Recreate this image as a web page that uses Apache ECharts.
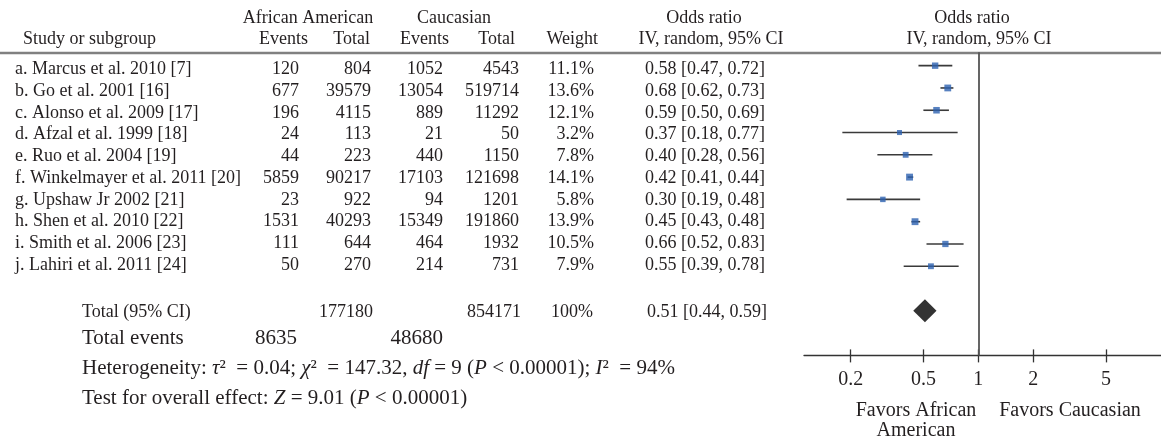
<!DOCTYPE html>
<html>
<head>
<meta charset="utf-8">
<script src="https://cdn.jsdelivr.net/npm/echarts@6/dist/echarts.min.js"></script>
<style>
html, body { margin: 0; padding: 0; background: #fff; }
#main { width: 1161px; height: 439px; }
</style>
</head>
<body>
<div id="main"></div>
<script>
var studies = ['a. Marcus et al. 2010 [7]', 'b. Go et al. 2001 [16]', 'c. Alonso et al. 2009 [17]',
    'd. Afzal et al. 1999 [18]', 'e. Ruo et al. 2004 [19]', 'f. Winkelmayer et al. 2011 [20]',
    'g. Upshaw Jr 2002 [21]', 'h. Shen et al. 2010 [22]', 'i. Smith et al. 2006 [23]', 'j. Lahiri et al. 2011 [24]'];
var aaEvents = [120, 677, 196, 24, 44, 5859, 23, 1531, 111, 50];
var aaTotal = [804, 39579, 4115, 113, 223, 90217, 922, 40293, 644, 270];
var caEvents = [1052, 13054, 889, 21, 440, 17103, 94, 15349, 464, 214];
var caTotal = [4543, 519714, 11292, 50, 1150, 121698, 1201, 191860, 1932, 731];
var weights = [11.1, 13.6, 12.1, 3.2, 7.8, 14.1, 5.8, 13.9, 10.5, 7.9];
var oddsRatio = [0.58, 0.68, 0.59, 0.37, 0.40, 0.42, 0.30, 0.45, 0.66, 0.55];
var ciLow = [0.47, 0.62, 0.50, 0.18, 0.28, 0.41, 0.19, 0.43, 0.52, 0.39];
var ciHigh = [0.72, 0.73, 0.69, 0.77, 0.56, 0.44, 0.48, 0.48, 0.83, 0.78];

// pooled estimate: OR, low, high
var pooled = [0.51, 0.44, 0.59];
var totalParticipants = [177180, 854171];
var totalEvents = [8635, 48680];
var tickValues = [0.2, 0.5, 1, 2, 5];

var FONT = '"Liberation Serif", "DejaVu Serif", serif';
var INK = '#231f20';

function ciText(or, lo, hi) {
    return or.toFixed(2) + ' [' + lo.toFixed(2) + ', ' + hi.toFixed(2) + ']';
}

// table columns (x position, alignment, cell getter)
var cols = [
    {x: 15, align: 'left', get: function (i) { return studies[i]; }},
    {x: 299, align: 'right', get: function (i) { return String(aaEvents[i]); }},
    {x: 371, align: 'right', get: function (i) { return String(aaTotal[i]); }},
    {x: 443, align: 'right', get: function (i) { return String(caEvents[i]); }},
    {x: 519, align: 'right', get: function (i) { return String(caTotal[i]); }},
    {x: 594, align: 'right', get: function (i) { return weights[i].toFixed(1) + '%'; }},
    {x: 645, align: 'left', get: function (i) { return ciText(oddsRatio[i], ciLow[i], ciHigh[i]); }}
];

function txt(x, y, text, align, size, extra) {
    var st = {text: text, x: x, y: y, align: align || 'left', verticalAlign: 'middle',
        fontSize: size || 18, fontFamily: FONT, fill: INK};
    if (extra) { for (var k in extra) st[k] = extra[k]; }
    return {type: 'text', silent: true, style: st};
}

var it = {fontSize: 21, fontFamily: FONT, fontStyle: 'italic', fill: INK};
var rm = {fontSize: 21, fontFamily: FONT, fill: INK};
var EQ = '\u2002= ';

var graphics = [
    {type: 'line', silent: true, shape: {x1: 0, y1: 53, x2: 1161, y2: 53},
        style: {stroke: '#808080', lineWidth: 2.5}},
    txt(308, 18, 'African American', 'center'),
    txt(454, 18, 'Caucasian', 'center'),
    txt(704, 18, 'Odds ratio', 'center'),
    txt(972, 18, 'Odds ratio', 'center'),
    txt(23, 39, 'Study or subgroup', 'left'),
    txt(308, 39, 'Events', 'right'),
    txt(370, 39, 'Total', 'right'),
    txt(449, 39, 'Events', 'right'),
    txt(515, 39, 'Total', 'right'),
    txt(598, 39, 'Weight', 'right'),
    txt(711, 39, 'IV, random, 95% CI', 'center'),
    txt(979, 39, 'IV, random, 95% CI', 'center'),
    // totals
    txt(82, 312, 'Total (95% CI)', 'left'),
    txt(373, 312, String(totalParticipants[0]), 'right'),
    txt(521, 312, String(totalParticipants[1]), 'right'),
    txt(593, 312, '100%', 'right'),
    txt(647, 312, ciText(pooled[0], pooled[1], pooled[2]), 'left'),
    txt(82, 338, 'Total events', 'left', 21),
    txt(297, 338, String(totalEvents[0]), 'right', 21),
    txt(443, 338, String(totalEvents[1]), 'right', 21),
    txt(82, 368, '{r|Heterogeneity: }{i|τ}{r|²' + EQ + '0.04; }{i|χ}{r|²' + EQ + '147.32, }{i|df}{r| = 9 (}{i|P}{r| < 0.00001); }{i|I}{r|²' + EQ + '94%}',
        'left', 21, {rich: {i: it, r: rm}}),
    txt(82, 398, '{r|Test for overall effect: }{i|Z}{r| = 9.01 (}{i|P}{r| < 0.00001)}',
        'left', 21, {rich: {i: it, r: rm}}),
    // axis captions
    txt(916, 411, 'Favors African', 'center', 20),
    txt(916, 431, 'American', 'center', 20),
    txt(1070, 411, 'Favors Caucasian', 'center', 20)
];

var chart = echarts.init(document.getElementById('main'));
var option = {
    animation: false,
    backgroundColor: '#fff',
    graphic: graphics,
    grid: [
        {left: 0, width: 1161, top: 56.25, height: 295.8},
        {left: 804, width: 361, top: 52.3, height: 303.1}
    ],
    xAxis: [
        {gridIndex: 0, type: 'value', min: 0, max: 1161, show: false},
        {
            gridIndex: 1, type: 'log', logBase: 10, min: 0.111, max: 10, position: 'bottom',
            axisLine: {show: true, onZero: false, lineStyle: {color: '#333', width: 1.3}},
            axisTick: {show: true, inside: false, length: 7, customValues: tickValues,
                lineStyle: {color: '#333', width: 1.3}},
            axisLabel: {show: true, margin: 14, customValues: tickValues, color: INK,
                fontFamily: FONT, fontSize: 20,
                formatter: function (v) { return String(+(+v).toPrecision(3)); }},
            splitLine: {show: false},
            minorTick: {show: false}
        },
        {
            gridIndex: 1, type: 'log', logBase: 10, min: 0.111, max: 10, position: 'bottom',
            axisLine: {show: false, onZero: false},
            axisTick: {show: true, inside: true, length: 6, customValues: tickValues,
                lineStyle: {color: '#333', width: 1.3}},
            axisLabel: {show: false},
            splitLine: {show: false}
        }
    ],
    yAxis: [
        {gridIndex: 0, type: 'value', inverse: true, min: -0.6, max: 13, show: false},
        {gridIndex: 1, type: 'value', inverse: true, min: -0.6, max: 13, show: false,
            axisLine: {onZero: false}}
    ],
    series: [
        {
            // study table
            type: 'custom',
            xAxisIndex: 0, yAxisIndex: 0,
            silent: true,
            data: studies.map(function (s, i) { return [0, i]; }),
            renderItem: function (params, api) {
                var row = api.value(1);
                var i = params.dataIndex;
                return {
                    type: 'group',
                    children: cols.map(function (c) {
                        var p = api.coord([c.x, row]);
                        return {
                            type: 'text',
                            style: {
                                text: c.get(i), x: p[0], y: p[1], align: c.align,
                                verticalAlign: 'middle', fontSize: 18, fontFamily: FONT, fill: INK
                            }
                        };
                    })
                };
            }
        },
        {
            // confidence intervals
            type: 'custom',
            xAxisIndex: 1, yAxisIndex: 1,
            silent: true,
            data: studies.map(function (s, i) { return [ciLow[i], ciHigh[i], i]; }),
            renderItem: function (params, api) {
                var a = api.coord([api.value(0), api.value(2)]);
                var b = api.coord([api.value(1), api.value(2)]);
                return {
                    type: 'line',
                    shape: {x1: a[0], y1: a[1], x2: b[0], y2: b[1]},
                    style: {stroke: '#3a3a3a', lineWidth: 1.6}
                };
            }
        },
        {
            // study estimates
            type: 'scatter',
            xAxisIndex: 1, yAxisIndex: 1,
            silent: true,
            symbol: 'rect',
            data: studies.map(function (s, i) { return [oddsRatio[i], i, weights[i]]; }),
            symbolSize: function (v) { return 4.5 + v[2] * 0.17; },
            itemStyle: {color: '#2d62b0'},
            markLine: {
                silent: true,
                symbol: ['none', 'none'],
                label: {show: false},
                lineStyle: {color: '#555', width: 1.8, type: 'solid'},
                data: [[{coord: [1, -0.6]}, {coord: [1, 13]}]]
            }
        },
        {
            // pooled diamond
            type: 'custom',
            xAxisIndex: 1, yAxisIndex: 1,
            silent: true,
            data: [[pooled[0], pooled[1], pooled[2], 11]],
            renderItem: function (params, api) {
                var row = api.value(3);
                var l = api.coord([api.value(1), row]);
                var r = api.coord([api.value(2), row]);
                var c = api.coord([api.value(0), row]);
                var h = 11.5;
                return {
                    type: 'polygon',
                    shape: {points: [[l[0], l[1]], [c[0], c[1] - h], [r[0], r[1]], [c[0], c[1] + h]]},
                    style: {fill: '#333'}
                };
            }
        }
    ]
};
chart.setOption(option);
</script>
</body>
</html>
